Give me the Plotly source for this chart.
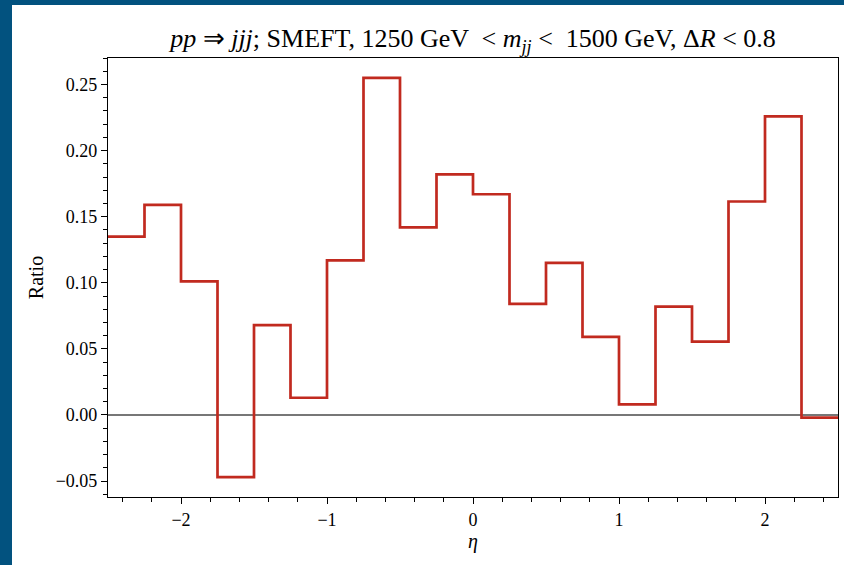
import plotly.graph_objects as go

bin_edges = [-2.5, -2.25, -2.0, -1.75, -1.5, -1.25, -1.0, -0.75, -0.5, -0.25,
             0.0, 0.25, 0.5, 0.75, 1.0, 1.25, 1.5, 1.75, 2.0, 2.25, 2.5]
ratio = [0.135, 0.159, 0.101, -0.047, 0.068, 0.013, 0.117, 0.255, 0.142, 0.182,
         0.167, 0.084, 0.115, 0.059, 0.008, 0.082, 0.0555, 0.1615, 0.226, -0.002]

x_ticks = [-2, -1, 0, 1, 2]
y_ticks = [-0.05, 0.0, 0.05, 0.10, 0.15, 0.20, 0.25]

W, H = 844, 565
L, R, T, B = 108, 6, 58, 68
pw, ph = W - L - R, H - T - B

def px_to_paper_x(px):
    return (px - L) / pw

def px_to_paper_y(py):
    return (H - B - py) / ph

BLUE = "#02527f"

fig = go.Figure()

fig.add_trace(go.Scatter(
    x=bin_edges,
    y=ratio + [ratio[-1]],
    mode="lines",
    line=dict(shape="hv", color="#c12a1f", width=2.7),
    showlegend=False,
    hoverinfo="skip",
))

font = "Liberation Serif, Times New Roman, serif"

shapes = [
    # zero reference line
    dict(type="line", xref="paper", yref="y", x0=0, x1=1, y0=0, y1=0,
         line=dict(color="#4a4a4a", width=1.4), layer="below"),
    # left blue strip
    dict(type="rect", xref="paper", yref="paper",
         x0=px_to_paper_x(0), x1=px_to_paper_x(12),
         y0=px_to_paper_y(H), y1=px_to_paper_y(0),
         fillcolor=BLUE, line=dict(width=0), layer="above"),
    # top blue strip
    dict(type="rect", xref="paper", yref="paper",
         x0=px_to_paper_x(0), x1=px_to_paper_x(W),
         y0=px_to_paper_y(5), y1=px_to_paper_y(0),
         fillcolor=BLUE, line=dict(width=0), layer="above"),
]

fig.update_layout(
    width=W, height=H,
    margin=dict(l=L, r=R, t=T, b=B, pad=0),
    paper_bgcolor="white",
    plot_bgcolor="white",
    font=dict(family=font, size=18, color="black"),
    title=dict(
        text="<i>pp</i> ⇒ <i>jjj</i>; SMEFT, 1250 GeV  &lt; <i>m</i><sub><i>jj</i></sub> &lt;  1500 GeV, Δ<i>R</i> &lt; 0.8",
        x=(L + pw / 2) / W, xanchor="center",
        y=1 - 38 / H, yanchor="middle",
        font=dict(family=font, size=26, color="black"),
    ),
    xaxis=dict(
        range=[-2.5, 2.5],
        tickvals=x_ticks,
        ticktext=[("−" + str(-v)) if v < 0 else str(v) for v in x_ticks],
        ticks="outside", ticklen=6, tickwidth=1.2, tickcolor="black",
        showline=True, linecolor="black", linewidth=1.2, mirror=True,
        showgrid=False, zeroline=False,
        minor=dict(dtick=0.2, tick0=0, ticks="outside", ticklen=3.5, tickwidth=1, tickcolor="black", showgrid=False),
        title=dict(text="<i>η</i>", font=dict(family=font, size=20), standoff=0),
        tickfont=dict(family=font, size=18),
    ),
    yaxis=dict(
        range=[-0.0621, 0.2701],
        tickvals=y_ticks,
        ticktext=[("−%.2f" % -v) if v < 0 else ("%.2f" % v) for v in y_ticks],
        ticks="outside", ticklen=6, tickwidth=1.2, tickcolor="black",
        showline=True, linecolor="black", linewidth=1.2, mirror=True,
        showgrid=False, zeroline=False,
        minor=dict(dtick=0.01, tick0=0, ticks="outside", ticklen=3.5, tickwidth=1, tickcolor="black", showgrid=False),
        title=dict(text="Ratio", font=dict(family=font, size=20), standoff=6),
        tickfont=dict(family=font, size=18),
    ),
    shapes=shapes,
)

fig.write_html("out.html", config={"displayModeBar": False},
               post_script="document.body.style.margin='0px';")
